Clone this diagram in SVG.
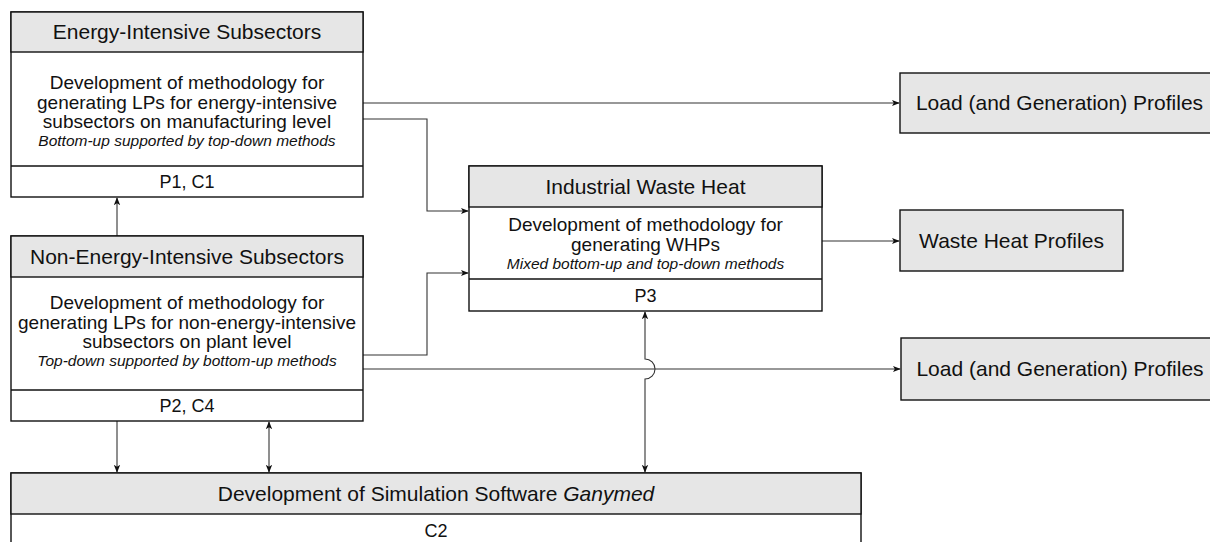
<svg xmlns="http://www.w3.org/2000/svg" width="1210" height="542" viewBox="0 0 1210 542">
  <style>
    text { font-family: "Liberation Sans", Arial, sans-serif; fill: #111; text-anchor: middle; }
    .head { font-size: 21px; }
    .body { font-size: 19px; }
    .note { font-size: 15.5px; font-style: italic; }
    .foot { font-size: 18px; }
    .hdr { fill: #e6e6e6; stroke: #111; stroke-width: 1.4; }
    .box { fill: #ffffff; stroke: #111; stroke-width: 1.4; }
    .link { fill: none; stroke: #333; stroke-width: 1.1; }
  </style>
  <defs>
    <marker id="arrow" viewBox="0 0 10 10" refX="9" refY="5" markerWidth="8" markerHeight="8" markerUnits="userSpaceOnUse" orient="auto-start-reverse">
      <path d="M0,1 L10,5 L0,9 L2.5,5 Z" fill="#111"/>
    </marker>
  </defs>

  <rect width="1210" height="542" fill="#ffffff"/>

  <!-- Connectors -->
  <g id="connectors">
    <path class="link" d="M363,103 H899" marker-end="url(#arrow)"/>
    <path class="link" d="M363,119 H427 V211 H468" marker-end="url(#arrow)"/>
    <path class="link" d="M363,355 H427 V273 H468" marker-end="url(#arrow)"/>
    <path class="link" d="M363,369 H900" marker-end="url(#arrow)"/>
    <path class="link" d="M822,241 H899" marker-end="url(#arrow)"/>
    <path class="link" d="M645,312 V359 A10,10 0 0 1 645,379 V472" marker-start="url(#arrow)" marker-end="url(#arrow)"/>
    <path class="link" d="M117,236 V198" marker-end="url(#arrow)"/>
    <path class="link" d="M117,421 V472" marker-end="url(#arrow)"/>
    <path class="link" d="M269,422 V472" marker-start="url(#arrow)" marker-end="url(#arrow)"/>
  </g>

  <!-- Energy-intensive subsectors -->
  <g id="energy-intensive">
    <rect class="box" x="11" y="12" width="352" height="185"/>
    <rect class="hdr" x="11" y="12" width="352" height="40"/>
    <line x1="11" y1="166" x2="363" y2="166" stroke="#111" stroke-width="1.4"/>
    <text class="head" x="187" y="39">Energy-Intensive Subsectors</text>
    <text class="body" x="187" y="89">Development of methodology for</text>
    <text class="body" x="187" y="108.5">generating LPs for energy-intensive</text>
    <text class="body" x="187" y="128">subsectors on manufacturing level</text>
    <text class="note" x="187" y="146">Bottom-up supported by top-down methods</text>
    <text class="foot" x="187" y="188">P1, C1</text>
  </g>

  <!-- Non-energy-intensive subsectors -->
  <g id="non-energy-intensive">
    <rect class="box" x="11" y="236" width="352" height="185"/>
    <rect class="hdr" x="11" y="236" width="352" height="41"/>
    <line x1="11" y1="390" x2="363" y2="390" stroke="#111" stroke-width="1.4"/>
    <text class="head" x="187" y="264">Non-Energy-Intensive Subsectors</text>
    <text class="body" x="187" y="309">Development of methodology for</text>
    <text class="body" x="187" y="328.5">generating LPs for non-energy-intensive</text>
    <text class="body" x="187" y="348">subsectors on plant level</text>
    <text class="note" x="187" y="366">Top-down supported by bottom-up methods</text>
    <text class="foot" x="187" y="412">P2, C4</text>
  </g>

  <!-- Industrial waste heat -->
  <g id="industrial-waste-heat">
    <rect class="box" x="469" y="166" width="353" height="145"/>
    <rect class="hdr" x="469" y="166" width="353" height="41"/>
    <line x1="469" y1="279" x2="822" y2="279" stroke="#111" stroke-width="1.4"/>
    <text class="head" x="645.5" y="194">Industrial Waste Heat</text>
    <text class="body" x="645.5" y="231">Development of methodology for</text>
    <text class="body" x="645.5" y="250.5">generating WHPs</text>
    <text class="note" x="645.5" y="269">Mixed bottom-up and top-down methods</text>
    <text class="foot" x="645.5" y="302">P3</text>
  </g>

  <!-- Simulation software -->
  <g id="simulation-software">
    <rect class="box" x="11" y="473" width="850" height="80"/>
    <rect class="hdr" x="11" y="473" width="850" height="41"/>
    <text class="head" x="436" y="501">Development of Simulation Software <tspan font-style="italic">Ganymed</tspan></text>
    <text class="foot" x="436" y="537">C2</text>
  </g>

  <!-- Output profiles -->
  <g id="load-profiles-1">
    <rect class="hdr" x="900" y="73" width="316" height="60"/>
    <text class="head" x="1059.5" y="110">Load (and Generation) Profiles</text>
  </g>
  <g id="waste-heat-profiles">
    <rect class="hdr" x="900" y="210" width="223" height="61"/>
    <text class="head" x="1011.5" y="248">Waste Heat Profiles</text>
  </g>
  <g id="load-profiles-2">
    <rect class="hdr" x="901" y="338" width="316" height="62"/>
    <text class="head" x="1060" y="376">Load (and Generation) Profiles</text>
  </g>
</svg>
